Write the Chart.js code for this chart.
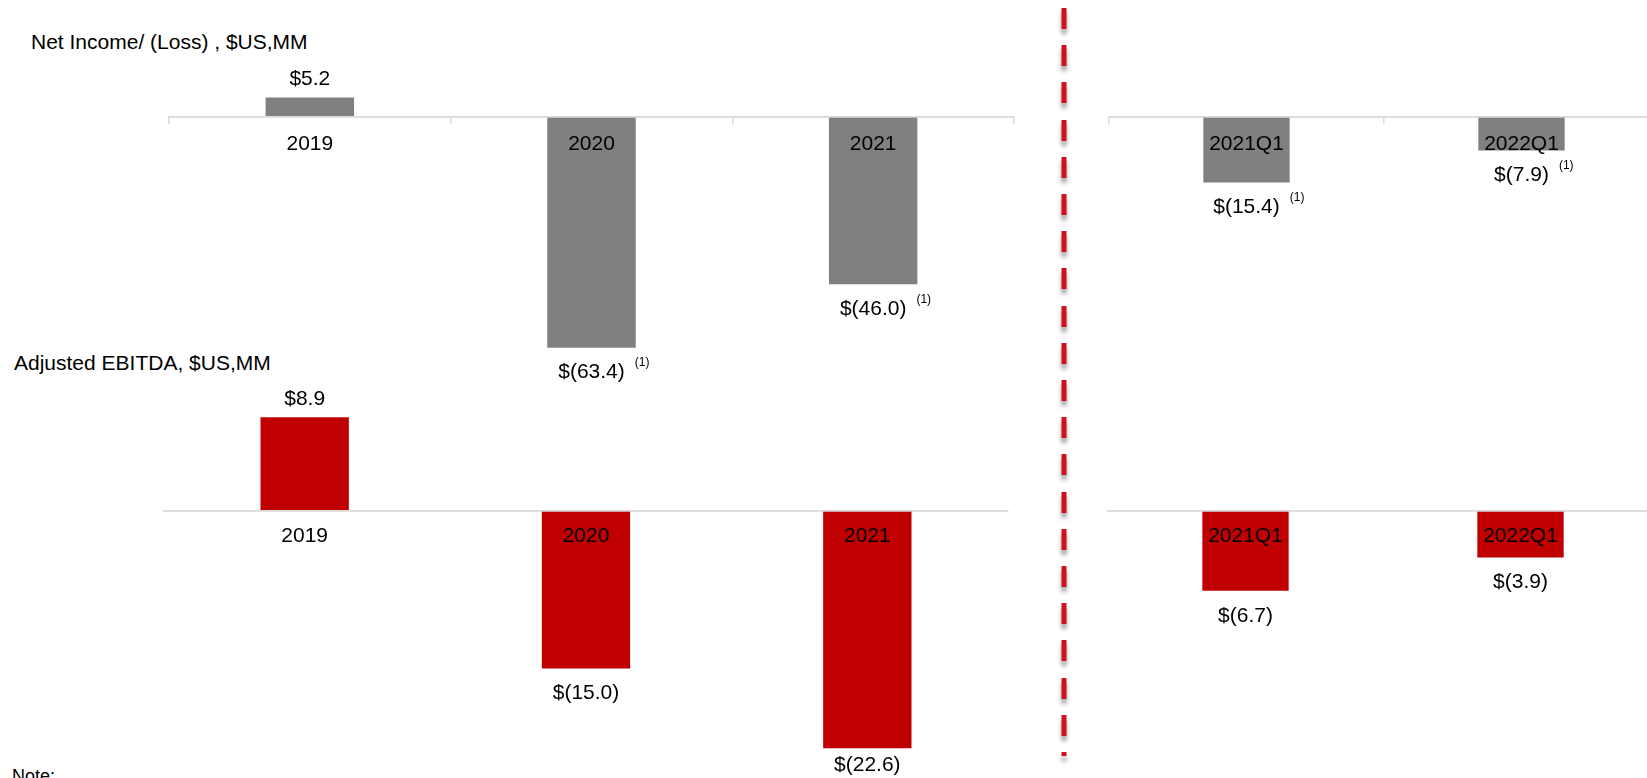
<!DOCTYPE html>
<html><head><meta charset="utf-8">
<script src="https://cdn.jsdelivr.net/npm/chart.js@4.4.1/dist/chart.umd.min.js"></script>
<style>
html,body{margin:0;padding:0;background:#fff;}
body{width:1647px;height:778px;overflow:hidden;position:relative;font-family:"Liberation Sans",Arial,sans-serif;}
canvas{position:absolute;}
.t{position:absolute;font-size:21px;line-height:21px;color:#000;white-space:nowrap;}
</style></head><body>
<div class="t" style="left:31px;top:31px">Net Income/ (Loss) , $US,MM</div>
<div class="t" style="left:14px;top:352px">Adjusted EBITDA, $US,MM</div>
<div class="t" style="left:12px;top:767px;font-size:18px;line-height:18px">Note:</div>
<canvas id="c1" width="1040" height="400" style="left:0;top:0"></canvas>
<canvas id="c2" width="600" height="400" style="left:1080px;top:0"></canvas>
<canvas id="c3" width="1040" height="448" style="left:0;top:330px"></canvas>
<canvas id="c4" width="600" height="448" style="left:1080px;top:330px"></canvas>
<canvas id="divider" width="30" height="778" style="left:1049px;top:0"></canvas>
<script>
// ---- data ----
const annualLabels = ['2019', '2020', '2021'];
const quarterLabels = ['2021Q1', '2022Q1'];
const netIncomeAnnual = [5.2, -63.4, -46.0];
const netIncomeQuarter = [-15.4, -7.9];
const ebitdaAnnual = [8.9, -15.0, -22.6];
const ebitdaQuarter = [-6.7, -3.9];
const netIncomeAnnualNotes = [false, true, true];
const netIncomeQuarterNotes = [true, true];
const ebitdaAnnualNotes = [false, false, false];
const ebitdaQuarterNotes = [false, false];
const noteMark = '(1)';

const FONT = '"Liberation Sans", Arial, sans-serif';
const GREY = '#808080';
const RED = '#c00000';

const valueLabels = {
  id: 'valueLabels',
  afterDraw(chart, args, opts) {
    const ctx = chart.ctx;
    const ds = chart.data.datasets[0];
    const meta = chart.getDatasetMeta(0);
    ctx.save();
    ctx.fillStyle = '#000';
    meta.data.forEach((bar, i) => {
      const v = ds.data[i];
      const txt = v >= 0 ? '$' + v.toFixed(1) : '$(' + Math.abs(v).toFixed(1) + ')';
      let y = v >= 0 ? bar.y - 18 : bar.y + 25;
      y = Math.min(y, chart.height - 13);
      ctx.font = '21px ' + FONT;
      ctx.textAlign = 'center';
      ctx.textBaseline = 'middle';
      ctx.fillText(txt, bar.x, y);
      if (opts.notes && opts.notes[i]) {
        const w = ctx.measureText(txt).width;
        ctx.font = '12px ' + FONT;
        ctx.textAlign = 'left';
        ctx.fillText(noteMark, bar.x + w / 2 + 10, y - 10);
      }
    });
    ctx.restore();
  }
};

function makeChart(id, labels, values, notes, color, cfg) {
  return new Chart(document.getElementById(id), {
    type: 'bar',
    data: {
      labels: labels,
      datasets: [{ data: values, backgroundColor: color, borderWidth: 0, barPercentage: 0.314, categoryPercentage: 1 }]
    },
    options: {
      responsive: false,
      animation: false,
      events: [],
      layout: { padding: cfg.padding },
      plugins: { legend: { display: false }, tooltip: { enabled: false }, valueLabels: { notes: notes } },
      scales: {
        x: {
          position: { y: 0 },
          z: 1,
          afterFit(s) { s.height = 0; },
          grid: { display: true, drawOnChartArea: false, drawTicks: cfg.ticks, tickLength: 6, color: '#d9d9d9', lineWidth: 1.5, offset: true, z: 1 },
          border: { display: true, color: '#d9d9d9', width: 1.8, z: 1 },
          ticks: { z: 2, color: '#000', font: { family: FONT, size: 21 }, padding: cfg.tickPad, maxRotation: 0, autoSkip: false }
        },
        y: { display: false, min: cfg.min, max: cfg.max }
      }
    },
    plugins: [valueLabels]
  });
}

makeChart('c1', annualLabels, netIncomeAnnual, netIncomeAnnualNotes, GREY,
  { padding: { left: 169, right: 26, top: 60, bottom: 10 }, min: -75, max: 15.5, ticks: true, tickPad: 9 });
makeChart('c2', quarterLabels, netIncomeQuarter, netIncomeQuarterNotes, GREY,
  { padding: { left: 29, right: 21, top: 60, bottom: 10 }, min: -63.9, max: 13.25, ticks: true, tickPad: 9 });
makeChart('c3', annualLabels, ebitdaAnnual, ebitdaAnnualNotes, RED,
  { padding: { left: 164, right: 32, top: 60, bottom: 15 }, min: -24, max: 11.5, ticks: false, tickPad: 13 });
makeChart('c4', quarterLabels, ebitdaQuarter, ebitdaQuarterNotes, RED,
  { padding: { left: 28, right: 22, top: 60, bottom: 15 }, min: -21.18, max: 10.17, ticks: false, tickPad: 13 });

// decorative dashed divider
(function () {
  const c = document.getElementById('divider');
  const ctx = c.getContext('2d');
  ctx.fillStyle = '#d0101e';
  ctx.shadowColor = 'rgba(0,0,0,0.4)';
  ctx.shadowBlur = 4;
  ctx.shadowOffsetY = 5;
  for (let y = 8; y < 756; y += 37.2) {
    ctx.fillRect(12.5, Math.round(y), 5, Math.min(21, 756 - Math.round(y)));
  }
})();
</script>
</body></html>
